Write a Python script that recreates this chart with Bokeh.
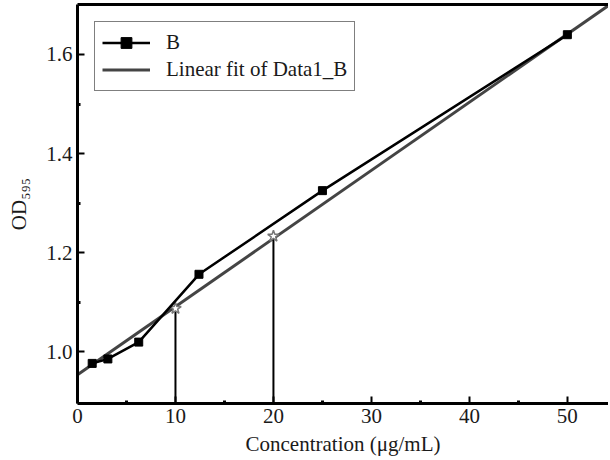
from bokeh.plotting import figure
from bokeh.models import (Range1d, LinearAxis, FixedTicker,
                          Legend, LegendItem, NumeralTickFormatter)
from bokeh.embed import file_html
from bokeh.resources import INLINE

# data
conc = [1.5, 3.1, 6.25, 12.4, 25, 50]
od = [0.976, 0.985, 1.019, 1.156, 1.325, 1.640]
fit_x = [0, 55]
fit_y = [0.953, 1.71]
mark_x = [10, 20]
mark_y = [1.087, 1.233]
x_ticks = [0, 10, 20, 30, 40, 50]
y_ticks = [1.0, 1.2, 1.4, 1.6]

FONT = "Liberation Serif"
YMIN, YMAX = 0.895, 1.701

p = figure(width=608, height=458, output_backend="svg", toolbar_location=None,
           x_range=Range1d(0, 54.2), y_range=Range1d(YMIN, YMAX),
           x_axis_label="Concentration (μg/mL)", y_axis_label="OD₅₉₅",
           min_border_left=77, min_border_bottom=10, min_border_top=4, min_border_right=0)
p.outline_line_color = None
p.grid.visible = False
p.background_fill_color = "white"

p.xaxis.ticker = FixedTicker(ticks=x_ticks, minor_ticks=[5, 15, 25, 35, 45])
p.yaxis.ticker = FixedTicker(ticks=y_ticks, minor_ticks=[1.1, 1.3, 1.5])
p.yaxis.formatter = NumeralTickFormatter(format="0.0")
for ax in (p.xaxis[0], p.yaxis[0]):
    ax.axis_line_width = 3
    ax.axis_line_color = "black"
    ax.major_tick_in = 7
    ax.major_tick_out = 0
    ax.minor_tick_in = 3
    ax.minor_tick_out = 0
    ax.major_tick_line_width = 2
    ax.minor_tick_line_width = 3
    ax.major_label_text_font = FONT
    ax.major_label_text_font_size = "21px"
    ax.major_label_text_color = "#1a1a1a"
    ax.axis_label_text_font = FONT
    ax.axis_label_text_font_size = "21px"
    ax.axis_label_text_font_style = "normal"
    ax.axis_label_text_color = "#1a1a1a"
p.xaxis.major_label_standoff = 5
p.xaxis.axis_label_standoff = 6
p.yaxis.major_label_standoff = 5
p.yaxis.axis_label_standoff = 12

top = LinearAxis(ticker=FixedTicker(ticks=[]), axis_line_width=3,
                 major_label_text_font_size="0px", major_tick_line_color=None,
                 minor_tick_line_color=None)
p.add_layout(top, "above")

# fit line
fit_r = p.line(fit_x, fit_y, line_color="#444444", line_width=3)
# drop lines
p.segment(x0=mark_x, y0=mark_y, x1=mark_x, y1=[YMIN] * len(mark_x),
          line_color="black", line_width=2)
p.scatter(mark_x, mark_y, marker="star", size=12, line_color="#777777",
          fill_color="white", line_width=1.5)
# data
b_line = p.line(conc, od, line_color="black", line_width=2.5)
b_pts = p.scatter(conc, od, marker="square", size=8, color="black")

legend = Legend(items=[LegendItem(label="B", renderers=[b_line, b_pts]),
                       LegendItem(label="Linear fit of Data1_B", renderers=[fit_r])],
                location="top_left")
legend.label_text_font = FONT
legend.label_text_font_size = "21px"
legend.label_text_color = "#1a1a1a"
legend.border_line_color = "black"
legend.border_line_width = 1.5
legend.glyph_width = 48
legend.label_standoff = 16
legend.spacing = 0
legend.padding = 7
legend.margin = 17
legend.label_height = 27
legend.glyph_height = 27
p.add_layout(legend)

open("out.html", "w").write(file_html(p, INLINE))
